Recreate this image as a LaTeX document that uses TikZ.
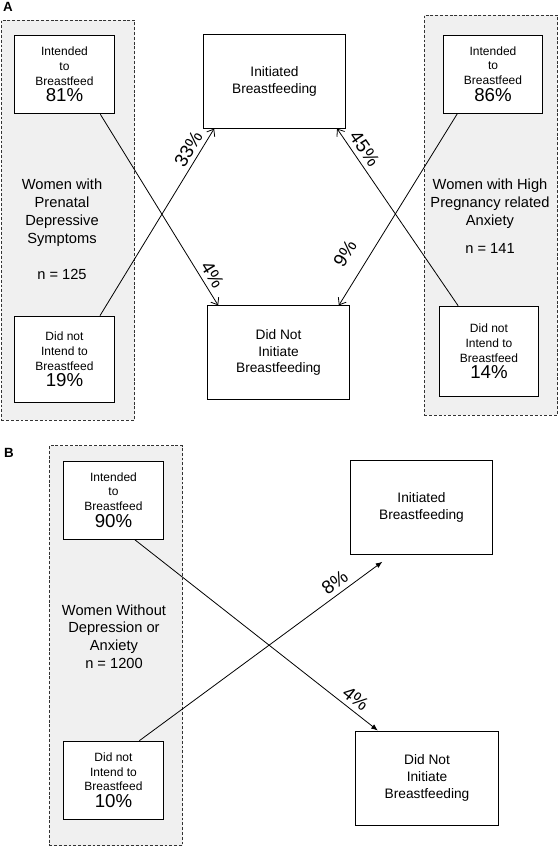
\documentclass[tikz,border=0pt]{standalone}
\usepackage{fontspec}
\setmainfont{Liberation Sans}
\usepackage{tikz}
\usetikzlibrary{arrows.meta}

\tikzset{
  grpbox/.style={draw=black!80, dash pattern=on 2.2pt off 1.4pt, fill=black!6, line width=0.6pt, minimum width=100pt, minimum height=300pt, inner sep=0pt},
  smallbox/.style={draw, fill=white, line width=0.7pt, minimum width=74.5pt, minimum height=59pt, inner sep=0pt, align=center, font=\fontsize{9}{10.9}\selectfont},
  bigbox/.style={draw, fill=white, line width=0.7pt, minimum width=107pt, minimum height=70pt, inner sep=0pt, align=center, font=\fontsize{10.3}{12.6}\selectfont},
  grptext/.style={align=center, font=\fontsize{11}{13.5}\selectfont},
  flowA/.style={line width=0.6pt, -{Straight Barb[length=4.5pt,width=7pt]}},
  flowB/.style={line width=0.6pt, -{Latex[length=5pt,width=4pt]}},
  pctlab/.style={anchor=south, font=\fontsize{14}{14}\selectfont}
}
\newcommand{\bigpct}[1]{{\fontsize{14}{14}\selectfont #1}}

\begin{document}
\begin{tikzpicture}[x=0.75pt,y=0.75pt,yscale=-1,xscale=1]
        \useasboundingbox (0,0) rectangle (559,846);

        % Panel labels
        \node (labA) at (8,7) {\fontsize{10}{10}\selectfont\bfseries A};
        \node (labB) at (9,453) {\fontsize{10}{10}\selectfont\bfseries B};

        %Dashed groups
        \node [grpbox] (grpL) at (68,220) {};
        \node [grpbox] (grpR) at (491,215) {};
        \node [grpbox] (grpB) at (116,645.5) {};

        % Text Node
        \node [grptext] (txtL) at (62,229.5) {Women with\\Prenatal\\Depressive\\Symptoms\\[13.5pt]n = 125};
        % Text Node
        \node [grptext] (txtR) at (490,216.5) {Women with High\\Pregnancy related\\Anxiety\\[7.5pt]n = 141};
        % Text Node
        \node [grptext, font=\fontsize{11}{13.3}\selectfont] (txtB) at (114,636.5) {Women Without\\Depression or\\Anxiety\\n = 1200};

        %Panel A boxes
        \node [smallbox] (intL) at (64.5,74.5) {Intended\\to\\Breastfeed\\[1.5pt]\bigpct{81\%}};
        \node [smallbox, minimum height=65pt] (notL) at (64.5,359.5) {Did not\\Intend to\\Breastfeed\\[1.5pt]\bigpct{19\%}};
        \node [smallbox, minimum height=58.5pt] (intR) at (493,74) {Intended\\to\\Breastfeed\\[1.5pt]\bigpct{86\%}};
        \node [smallbox, minimum height=68pt] (notR) at (489,351.5) {Did not\\Intend to\\Breastfeed\\[1.5pt]\bigpct{14\%}};
        \node [bigbox] (iniA) at (274.5,81.5) {Initiated\\Breastfeeding};
        \node [bigbox] (dniA) at (278.5,352.5) {Did Not\\Initiate\\Breastfeeding};

        %Panel B boxes
        \node [smallbox, minimum height=58.5pt] (intB) at (113.5,500) {Intended\\to\\Breastfeed\\[1.5pt]\bigpct{90\%}};
        \node [smallbox] (notB) at (113.5,780.5) {Did not\\Intend to\\Breastfeed\\[2pt]\bigpct{10\%}};
        \node [bigbox] (iniB) at (421.5,507.5) {Initiated\\Breastfeeding};
        \node [bigbox, minimum height=70.5pt] (dniB) at (427,778) {Did Not\\Initiate\\Breastfeeding};

        %Arrows panel A
        \draw [flowA] (intL.-48) -- (dniA.142) node [pctlab, pos=0.87, rotate=-58.5] (p4A) {4\%};
        \draw [flowA] (notL.51) -- (iniA.218) node [pctlab, pos=0.86, rotate=59] (p33A) {33\%};
        \draw [flowA] (intR.228) -- (dniA.38) node [pctlab, pos=0.79, rotate=58.4, yshift=8pt] (p9A) {9\%};
        \draw [flowA] (notR.124) -- (iniA.-37) node [pctlab, pos=0.85, rotate=-55.3] (p45A) {45\%};

        %Arrows panel B
        \draw [flowB] (intB.-62) -- (dniB.136) node [pctlab, pos=0.88, rotate=-38.2] (p4B) {4\%};
        \draw [flowB, shorten >=9pt] (notB.57) -- (iniB.238) node [pctlab, pos=0.8, rotate=36.4] (p8B) {8\%};
\end{tikzpicture}
\end{document}
